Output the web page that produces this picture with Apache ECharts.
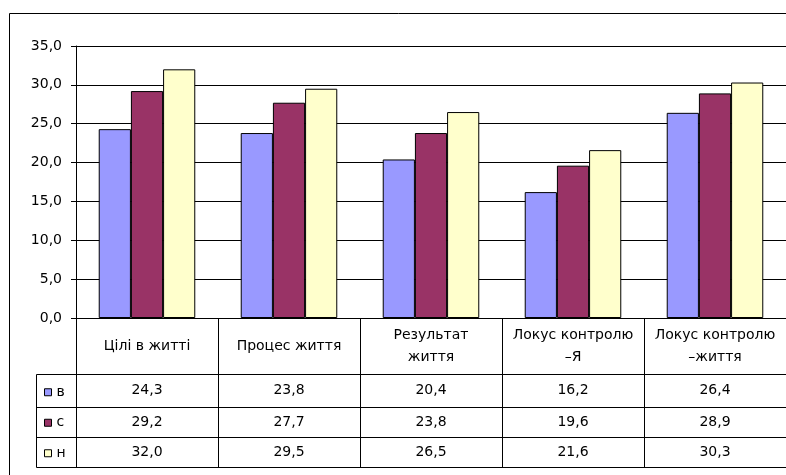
<!DOCTYPE html>
<html>
<head>
<meta charset="utf-8">
<script src="https://cdn.jsdelivr.net/npm/echarts@6/dist/echarts.min.js"></script>
<style>
html,body{margin:0;padding:0;background:#fff;}
#c{width:786px;height:475px;}
</style>
</head>
<body>
<div id="c"></div>
<script>
var categories = ['Цілі в житті', 'Процес життя', 'Результат\nжиття', 'Локус контролю\n–Я', 'Локус контролю\n–життя'];
var seriesNames = ['в', 'с', 'н'];
var valuesV = [24.3, 23.8, 20.4, 16.2, 26.4];
var valuesS = [29.2, 27.7, 23.8, 19.6, 28.9];
var valuesN = [32.0, 29.5, 26.5, 21.6, 30.3];
var colors = ['#9999FF', '#993366', '#FFFFCC'];

var FONT = 'DejaVu Sans';
var FS = 14;
var gridLeft = 76, gridTop = 46, gridW = 712, gridH = 272;
var rowOffsets = [56, 89, 119, 149];
var legendLeft = 37;

function fmt(v) { return v.toFixed(1).replace('.', ','); }

var chart = echarts.init(document.getElementById('c'), null, {renderer: 'canvas'});

var rows = [valuesV, valuesS, valuesN];
var xAxes = [{
  type: 'category',
  data: categories,
  position: 'bottom',
  axisLine: {show: true, lineStyle: {color: '#000', width: 1}},
  axisTick: {show: true, interval: 0, length: rowOffsets[3], lineStyle: {color: '#000', width: 1}},
  axisLabel: {interval: 0, margin: 28, verticalAlign: 'middle', lineHeight: 22,
    color: '#000', fontFamily: FONT, fontSize: FS},
  splitLine: {show: false}
}];
rows.forEach(function (arr, r) {
  var top = rowOffsets[r], bottom = rowOffsets[r + 1];
  xAxes.push({
    type: 'category',
    data: categories,
    position: 'bottom',
    offset: top,
    axisLine: {show: true, lineStyle: {color: '#000', width: 1}},
    axisTick: {show: false},
    axisLabel: {interval: 0, margin: (bottom - top) / 2, verticalAlign: 'middle',
      color: '#000', fontFamily: FONT, fontSize: FS,
      formatter: function (v, i) { return fmt(arr[i]); }},
    splitLine: {show: false}
  });
});
xAxes.push({
  type: 'category',
  data: categories,
  position: 'bottom',
  offset: rowOffsets[3],
  axisLine: {show: true, lineStyle: {color: '#000', width: 1}},
  axisTick: {show: false},
  axisLabel: {show: false},
  splitLine: {show: false}
});

var y0 = gridTop + gridH;
var legTop = y0 + rowOffsets[0];
var legBottom = y0 + rowOffsets[3];

var option = {
  animation: false,
  backgroundColor: '#fff',
  color: colors,
  grid: {left: gridLeft, top: gridTop, width: gridW, height: gridH, containLabel: false},
  legend: {
    orient: 'vertical',
    left: legendLeft + 2,
    top: legTop + 6,
    itemWidth: 7,
    itemHeight: 7,
    itemGap: 16,
    icon: 'rect',
    data: seriesNames,
    itemStyle: {borderColor: '#000', borderWidth: 1},
    textStyle: {color: '#000', fontFamily: FONT, fontSize: FS, lineHeight: 14.5}
  },
  xAxis: xAxes,
  yAxis: {
    type: 'value',
    min: 0, max: 35, interval: 5,
    axisLine: {show: true, lineStyle: {color: '#000', width: 1}},
    axisTick: {show: true, length: 5, inside: false, lineStyle: {color: '#000'}},
    axisLabel: {margin: 14, color: '#000', fontFamily: FONT, fontSize: FS,
      formatter: function (v) { return fmt(v); }},
    splitLine: {show: true, lineStyle: {color: '#000', width: 1}}
  },
  series: [valuesV, valuesS, valuesN].map(function (arr, i) {
    return {
      name: seriesNames[i],
      type: 'bar',
      data: arr,
      barGap: '0%',
      barCategoryGap: '32%',
      itemStyle: {color: colors[i], borderColor: '#000', borderWidth: 1}
    };
  }),
  graphic: [
    {type: 'rect', silent: true, z: 100,
      shape: {x: 9.5, y: 13.5, width: 900, height: 600},
      style: {fill: 'none', stroke: '#000', lineWidth: 1}},
    {type: 'polyline', silent: true, z: 100,
      shape: {points: [[gridLeft, legTop + 0.5], [legendLeft - 0.5, legTop + 0.5], [legendLeft - 0.5, legBottom + 0.5], [gridLeft, legBottom + 0.5]]},
      style: {fill: 'none', stroke: '#000', lineWidth: 1}},
    {type: 'line', silent: true, z: 100,
      shape: {x1: legendLeft - 0.5, y1: y0 + rowOffsets[1] + 0.5, x2: gridLeft, y2: y0 + rowOffsets[1] + 0.5},
      style: {stroke: '#000', lineWidth: 1}},
    {type: 'line', silent: true, z: 100,
      shape: {x1: legendLeft - 0.5, y1: y0 + rowOffsets[2] + 0.5, x2: gridLeft, y2: y0 + rowOffsets[2] + 0.5},
      style: {stroke: '#000', lineWidth: 1}}
  ]
};
chart.setOption(option);
</script>
</body>
</html>
